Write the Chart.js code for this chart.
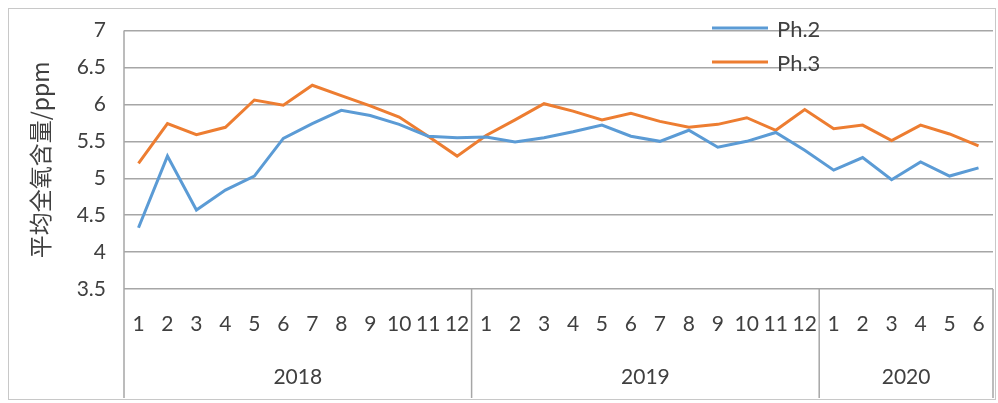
<!DOCTYPE html>
<html>
<head>
<meta charset="utf-8">
<script src="https://cdn.jsdelivr.net/npm/chart.js@4/dist/chart.umd.min.js"></script>
<style>
  html, body { margin: 0; padding: 0; background: #fff; }
  #wrap { width: 998px; height: 403px; position: relative; }
</style>
</head>
<body>
<div id="wrap"><canvas id="myChart" width="998" height="403"></canvas></div>
<script>
// data
const years = ['2018', '2019', '2020'];
const monthsPerYear = [12, 12, 6];
const months = [
  '1','2','3','4','5','6','7','8','9','10','11','12',
  '1','2','3','4','5','6','7','8','9','10','11','12',
  '1','2','3','4','5','6'
];
const ph2 = [
  4.33, 5.30, 4.57, 4.84, 5.03, 5.54, 5.74, 5.92, 5.85, 5.73, 5.57, 5.55,
  5.56, 5.49, 5.55, 5.63, 5.72, 5.57, 5.50, 5.65, 5.42, 5.50, 5.62, 5.38,
  5.11, 5.28, 4.98, 5.22, 5.03, 5.14
];
const ph3 = [
  5.20, 5.74, 5.59, 5.69, 6.06, 5.99, 6.26, 6.12, 5.98, 5.83, 5.57, 5.30,
  5.58, 5.79, 6.01, 5.91, 5.79, 5.88, 5.77, 5.69, 5.73, 5.82, 5.65, 5.93,
  5.67, 5.72, 5.51, 5.72, 5.60, 5.44
];
const yTicks = [3.5, 4, 4.5, 5, 5.5, 6, 6.5, 7];

const tickFont = { family: 'Lato, "Open Sans", sans-serif', size: 21 };
const textColor = '#404040';
const lineColor = '#a6a6a6';

// year row under the months + separators + outer frame
const yearRow = {
  id: 'yearRow',
  afterDraw(chart) {
    const ctx = chart.ctx;
    const x = chart.scales.x;
    const area = chart.chartArea;
    const half = (x.getPixelForValue(1) - x.getPixelForValue(0)) / 2;
    ctx.save();
    ctx.strokeStyle = lineColor;
    ctx.lineWidth = 1.5;
    // left axis line, down through the label rows
    ctx.beginPath();
    ctx.moveTo(area.left, area.top);
    ctx.lineTo(area.left, x.bottom);
    ctx.stroke();
    ctx.font = tickFont.size + 'px ' + tickFont.family;
    ctx.fillStyle = textColor;
    ctx.textAlign = 'center';
    ctx.textBaseline = 'middle';
    let start = 0;
    years.forEach((yr, i) => {
      const n = monthsPerYear[i];
      const left = x.getPixelForValue(start) - half;
      const right = x.getPixelForValue(start + n - 1) + half;
      ctx.beginPath();
      ctx.moveTo(right, x.top);
      ctx.lineTo(right, x.bottom);
      ctx.stroke();
      ctx.fillText(yr, (left + right) / 2, 377);
      start += n;
    });
    // outer frame
    ctx.strokeStyle = '#c8c8c8';
    ctx.lineWidth = 1;
    ctx.strokeRect(8.5, 8.5, 987, 391);
    ctx.restore();
  }
};

// legend in the top right corner of the plot
const cornerLegend = {
  id: 'cornerLegend',
  afterDraw(chart) {
    const ctx = chart.ctx;
    ctx.save();
    ctx.font = '22px ' + tickFont.family;
    ctx.textBaseline = 'middle';
    ctx.textAlign = 'left';
    chart.data.datasets.forEach((ds, i) => {
      const y = 28 + i * 34;
      ctx.strokeStyle = ds.borderColor;
      ctx.lineWidth = 3;
      ctx.beginPath();
      ctx.moveTo(712, y);
      ctx.lineTo(768, y);
      ctx.stroke();
      ctx.fillStyle = textColor;
      ctx.fillText(ds.label, 777, y + 2);
    });
    ctx.restore();
  }
};

let ctx = document.getElementById('myChart');

let myLineChart = new Chart(ctx, {
  type: 'line',
  data: {
    labels: months,
    datasets: [
      { label: 'Ph.2', data: ph2, borderColor: '#5b9bd5', backgroundColor: '#5b9bd5',
        borderWidth: 3, pointRadius: 0, tension: 0 },
      { label: 'Ph.3', data: ph3, borderColor: '#ed7d31', backgroundColor: '#ed7d31',
        borderWidth: 3, pointRadius: 0, tension: 0 }
    ]
  },
  options: {
    responsive: false,
    animation: false,
    devicePixelRatio: 1,
    layout: { padding: { left: 0, top: 30, right: 5, bottom: 5 } },
    plugins: {
      legend: { display: false },
      tooltip: { enabled: false }
    },
    scales: {
      x: {
        offset: true,
        grid: { display: false, drawTicks: false, offset: true },
        border: { display: false },
        ticks: {
          autoSkip: false, maxRotation: 0, minRotation: 0,
          padding: 23, color: textColor, font: tickFont
        },
        afterFit(scale) {
          scale.height = 109;
          scale.paddingLeft = 0;
          scale.paddingRight = 0;
        }
      },
      y: {
        min: 3.5,
        max: 7,
        afterBuildTicks(scale) { scale.ticks = yTicks.map(v => ({ value: v })); },
        grid: { color: lineColor, lineWidth: 1.5, drawTicks: false },
        border: { display: false },
        ticks: {
          padding: 18, color: textColor, font: tickFont,
          callback: v => String(v)
        },
        title: {
          display: true,
          text: '平均全氧含量/ppm',
          color: textColor,
          font: { family: '"Noto Sans CJK SC", sans-serif', size: 23 },
          padding: { top: 26, bottom: 0 }
        },
        afterFit(scale) { scale.width = 124; }
      }
    }
  },
  plugins: [yearRow, cornerLegend]
});
</script>
</body>
</html>
